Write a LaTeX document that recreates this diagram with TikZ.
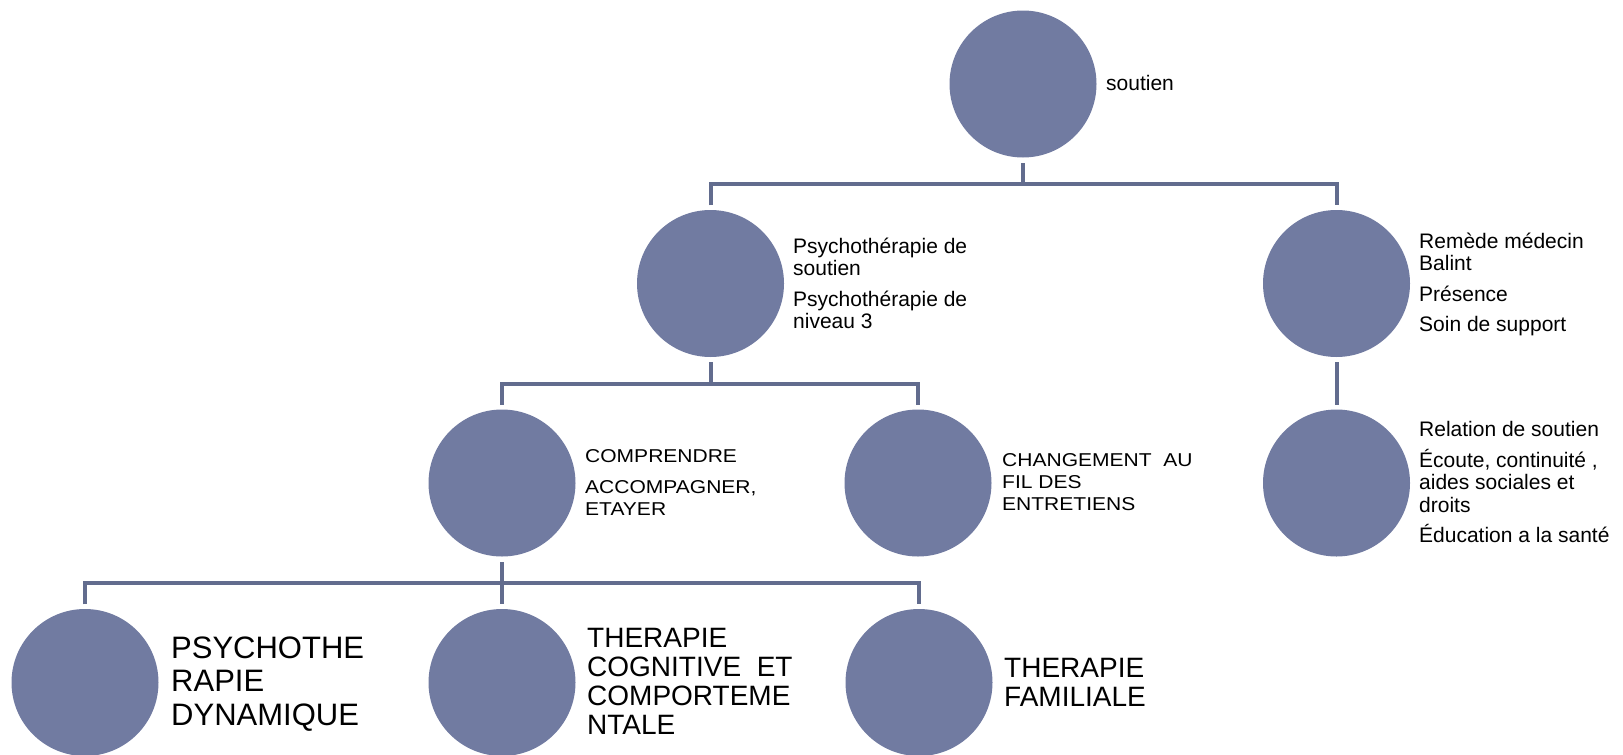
\documentclass[tikz,border=0pt]{standalone}
\usepackage{fontspec}
\setmainfont{Liberation Sans}
\newfontfamily\widefont{Liberation Sans}[FakeStretch=1.13]
\definecolor{cfill}{RGB}{113,123,161}
\definecolor{lcol}{RGB}{98,108,142}
\tikzset{
  circ/.style={circle, fill=cfill, draw=none, minimum size=147pt, inner sep=0pt},
  link/.style={draw=lcol, line width=4pt},
  lbl/.style={anchor=base west, inner sep=0pt},
  fA/.style={font=\fontsize{21}{22.5}\selectfont},
  fW/.style={font=\widefont\fontsize{18.6}{22}\selectfont},
  fBig/.style={font=\fontsize{31}{33.5}\selectfont},
  fMid/.style={font=\fontsize{28}{29}\selectfont},
}
\begin{document}
\begin{tikzpicture}[x=1pt,y=-1pt]
\useasboundingbox (0,0) rectangle (1623,755);
% circles
\node[circ] (T)   at (1023,84) {};
\node[circ] (A)   at (710.5,283.5) {};
\node[circ] (B)   at (1336.5,283.5) {};
\node[circ] (A1)  at (502,483) {};
\node[circ] (A2)  at (918,483) {};
\node[circ] (B1)  at (1336.5,483) {};
\node[circ] (C1)  at (85,682.5) {};
\node[circ] (C2)  at (502,682.5) {};
\node[circ] (C3)  at (919,682.5) {};
% connectors
\draw[link] ([yshift=-5.5pt]T.south) -- ([yshift=-26.5pt]T.south);
\draw[link] ([yshift=4.5pt]A.north) |- ([yshift=-26.5pt]T.south) -| ([yshift=4.5pt]B.north);
\draw[link] ([yshift=-5pt]A.south) -- ([yshift=-27pt]A.south);
\draw[link] ([yshift=4.5pt]A1.north) |- ([yshift=-27pt]A.south) -| ([yshift=4.5pt]A2.north);
\draw[link] ([yshift=-5.5pt]A1.south) -- ([yshift=-26.5pt]A1.south);
\draw[link] ([yshift=4.5pt]C1.north) |- ([yshift=-26.5pt]A1.south) -| ([yshift=4.5pt]C3.north);
\draw[link] ([yshift=-26.5pt]A1.south) -- ([yshift=4.5pt]C2.north);
\draw[link] ([yshift=-5pt]B.south) -- ([yshift=4.5pt]B1.north);
% labels
\node[lbl,fA] (tT) at (1106,90.5) {soutien};
\node[lbl,fA] (tA) at (793,253) {\vtop{\lineskiplimit=-1000pt
  \hbox{Psychothérapie de}\hbox{soutien}\vskip8pt
  \hbox{Psychothérapie de}\hbox{niveau 3}}};
\node[lbl,fA] (tB) at (1419,248.3) {\vtop{\lineskiplimit=-1000pt
  \hbox{Remède médecin}\hbox{Balint}\vskip8pt
  \hbox{Présence}\vskip8pt
  \hbox{Soin de support}}};
\node[lbl,fA] (tB1) at (1419,436.7) {\vtop{\lineskiplimit=-1000pt
  \hbox{Relation de soutien}\vskip8pt
  \hbox{Écoute, continuité ,}\hbox{aides sociales et}\hbox{droits}\vskip8pt
  \hbox{Éducation a la santé}}};
\node[lbl,fW] (tA1) at (585,462) {\vtop{\lineskiplimit=-1000pt
  \hbox{COMPRENDRE}\vskip9pt
  \hbox{ACCOMPAGNER,}\hbox{ETAYER}}};
\node[lbl,fW] (tA2) at (1002,466) {\vtop{\lineskiplimit=-1000pt
  \hbox{CHANGEMENT~~AU}\hbox{FIL DES}\hbox{ENTRETIENS}}};
\node[lbl,fBig] (tC1) at (171,658) {\vtop{\lineskiplimit=-1000pt
  \hbox{PSYCHOTHE}\hbox{RAPIE}\hbox{DYNAMIQUE}}};
\node[lbl,fMid] (tC2) at (587,647) {\vtop{\lineskiplimit=-1000pt
  \hbox{THERAPIE}\hbox{COGNITIVE~~ET}\hbox{COMPORTEME}\hbox{NTALE}}};
\node[lbl,fMid] (tC3) at (1004,677) {\vtop{\lineskiplimit=-1000pt
  \hbox{THERAPIE}\hbox{FAMILIALE}}};
\end{tikzpicture}
\end{document}
